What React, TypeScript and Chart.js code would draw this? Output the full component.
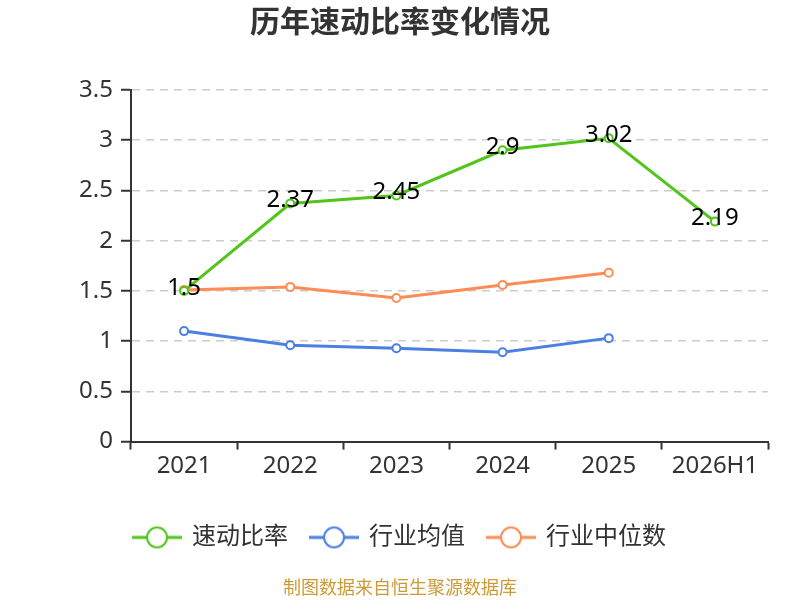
import React, { useEffect, useRef } from "react";
import { Chart, registerables } from "chart.js";

Chart.register(...registerables);

const categories = ["2021", "2022", "2023", "2024", "2025", "2026H1"];
const quickRatio = [1.5, 2.37, 2.45, 2.9, 3.02, 2.19];
const industryMean = [1.1, 0.96, 0.93, 0.89, 1.03, null];
const industryMedian = [1.51, 1.54, 1.43, 1.56, 1.68, null];
const seriesNames = ["速动比率", "行业均值", "行业中位数"];
const seriesColors = ["#52c41a", "#4a7fe3", "#ff8b55"];
const yTicks = [0, 0.5, 1, 1.5, 2, 2.5, 3, 3.5];
const titleText = "历年速动比率变化情况";
const footerText = "制图数据来自恒生聚源数据库";

const FONT = "'Noto Sans', 'Noto Sans CJK SC', sans-serif";

function makeIcon(color: string): HTMLCanvasElement {
  const c = document.createElement("canvas");
  c.width = 50;
  c.height = 26;
  const g = c.getContext("2d")!;
  g.strokeStyle = color;
  g.lineWidth = 3;
  g.beginPath();
  g.moveTo(0, 13);
  g.lineTo(50, 13);
  g.stroke();
  g.beginPath();
  g.arc(25, 13, 10, 0, Math.PI * 2);
  g.fillStyle = "#fff";
  g.fill();
  g.lineWidth = 2;
  g.stroke();
  return c;
}

const valueLabels = {
  id: "valueLabels",
  afterDatasetsDraw(chart: any) {
    const ctx = chart.ctx;
    const meta = chart.getDatasetMeta(0);
    const data = chart.data.datasets[0].data as number[];
    ctx.save();
    ctx.font = `24px ${FONT}`;
    ctx.fillStyle = "#000";
    ctx.textAlign = "center";
    ctx.textBaseline = "middle";
    meta.data.forEach((pt: any, i: number) => {
      const v = data[i];
      if (v == null) return;
      ctx.fillText(String(v), pt.x, pt.y - 3);
    });
    ctx.restore();
  },
};

export default function App() {
  const ref = useRef<HTMLCanvasElement | null>(null);

  useEffect(() => {
    document.body.style.margin = "0";
    const icons = seriesColors.map(makeIcon);
    const series = [quickRatio, industryMean, industryMedian];
    const chart = new Chart(ref.current!, {
      type: "line",
      data: {
        labels: categories,
        datasets: series.map((d, i) => ({
          label: seriesNames[i],
          data: d as any,
          borderColor: seriesColors[i],
          backgroundColor: "#fff",
          borderWidth: 3,
          pointRadius: 4,
          pointBorderWidth: 2,
          pointBackgroundColor: "#fff",
          pointBorderColor: seriesColors[i],
          tension: 0,
          spanGaps: false,
        })),
      },
      options: {
        responsive: false,
        animation: false,
        layout: { padding: { left: 32, right: 32, top: 0, bottom: 0 } },
        plugins: {
          title: {
            display: true,
            text: titleText,
            color: "#333",
            font: { size: 30, weight: "bold", family: FONT },
            padding: { top: 5, bottom: 49 },
          },
          subtitle: {
            display: true,
            position: "bottom",
            text: footerText,
            color: "#cc9a36",
            font: { size: 18, family: FONT },
            padding: { top: 19, bottom: 0 },
          },
          legend: {
            position: "bottom",
            labels: {
              usePointStyle: true,
              pointStyleWidth: 46,
              boxHeight: 24,
              padding: 23,
              color: "#333",
              font: { size: 24, family: FONT },
              generateLabels: (c: any) =>
                c.data.datasets.map((ds: any, i: number) => ({
                  text: ds.label,
                  pointStyle: icons[i],
                  fillStyle: "#fff",
                  strokeStyle: seriesColors[i],
                  lineWidth: 0,
                  hidden: false,
                  datasetIndex: i,
                  fontColor: "#333",
                })),
            },
          },
          tooltip: { enabled: false },
        },
        scales: {
          x: {
            type: "category",
            offset: true,
            grid: {
              offset: true,
              drawOnChartArea: false,
              tickLength: 8,
              tickColor: "#333",
              tickWidth: 2,
            },
            border: { display: true, color: "#333", width: 2 },
            ticks: { color: "#333", padding: 2, font: { size: 24, family: FONT }, maxRotation: 0 },
            afterFit: (s: any) => {
              s.height += 20;
            },
          },
          y: {
            min: 0,
            max: 3.5,
            afterBuildTicks: (s: any) => {
              s.ticks = yTicks.map((v) => ({ value: v }));
            },
            afterFit: (s: any) => {
              s.width = 99;
            },
            grid: {
              color: "#cccccc",
              lineWidth: 1.5,
              tickLength: 10,
              tickColor: "#333",
              tickWidth: 2,
              tickBorderDash: [],
            },
            border: { display: true, color: "#333", width: 2, dash: [8, 6] },
            ticks: {
              color: "#333",
              padding: 8,
              font: { size: 24, family: FONT },
              callback: (v: any) => String(v),
            },
          },
        },
      },
      plugins: [valueLabels],
    });
    return () => chart.destroy();
  }, []);

  return (
    <div style={{ position: "fixed", left: 0, top: 0, width: 800, height: 600, background: "#fff" }}>
      <canvas ref={ref} width={800} height={600} style={{ width: 800, height: 600 }} />
    </div>
  );
}
